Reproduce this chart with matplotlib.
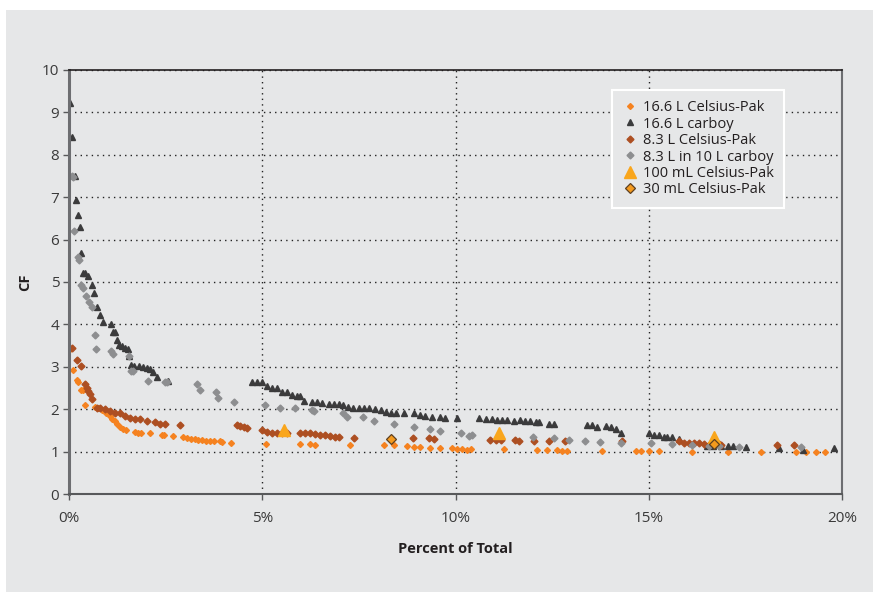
import matplotlib.pyplot as plt
from matplotlib.patches import Rectangle

# 16.6 L Celsius-Pak
pak166_x = [0.03, 0.11, 0.20, 0.24, 0.30, 0.35, 0.41, 0.67, 0.75, 0.85, 0.95, 1.05, 1.12, 1.18,
            1.25, 1.32, 1.40, 1.48, 1.70, 1.78, 1.85, 2.10, 2.40, 2.45, 2.70, 2.95, 3.05, 3.15,
            3.25, 3.35, 3.45, 3.55, 3.65, 3.75, 3.90, 3.95, 4.20, 5.10, 5.97, 6.24, 6.37, 7.28,
            8.14, 8.42, 8.75, 8.92, 9.09, 9.35, 9.61, 9.91, 10.05, 10.17, 10.30, 10.39, 11.25,
            12.11, 12.37, 12.63, 12.76, 12.89, 13.80, 14.66, 14.79, 15.00, 15.27, 16.13, 17.04,
            17.90, 18.80, 19.07, 19.33, 19.57]
pak166_y = [3.43, 2.92, 2.70, 2.65, 2.45, 2.45, 2.10, 2.06, 2.02, 1.98, 1.92, 1.85, 1.78, 1.72,
            1.65, 1.58, 1.54, 1.52, 1.47, 1.45, 1.43, 1.43, 1.39, 1.38, 1.37, 1.35, 1.32, 1.30,
            1.29, 1.28, 1.27, 1.26, 1.25, 1.25, 1.24, 1.23, 1.21, 1.19, 1.19, 1.17, 1.16, 1.16,
            1.16, 1.16, 1.13, 1.12, 1.11, 1.09, 1.08, 1.08, 1.07, 1.06, 1.04, 1.06, 1.06,
            1.04, 1.04, 1.04, 1.02, 1.02, 1.02, 1.02, 1.02, 1.02, 1.01, 0.99, 0.99,
            0.99, 0.99, 0.99, 0.99, 0.99]

# 16.6 L carboy
carboy166_x = [0.03, 0.09, 0.16, 0.17, 0.22, 0.28, 0.31, 0.35, 0.41, 0.50, 0.59, 0.65, 0.73,
               0.79, 0.87, 1.08, 1.13, 1.19, 1.25, 1.30, 1.37, 1.45, 1.52, 1.56, 1.60, 1.68,
               1.80, 1.91, 2.01, 2.10, 2.18, 2.27, 2.55, 4.73, 4.86, 4.99, 5.12, 5.25, 5.38,
               5.51, 5.64, 5.77, 5.90, 5.98, 6.09, 6.29, 6.42, 6.55, 6.72, 6.85, 6.98, 7.10,
               7.23, 7.36, 7.50, 7.62, 7.75, 7.93, 8.06, 8.19, 8.32, 8.45, 8.66, 8.92, 9.09,
               9.22, 9.40, 9.61, 9.74, 10.04, 10.60, 10.78, 10.95, 11.08, 11.21, 11.34, 11.51,
               11.68, 11.81, 11.94, 12.07, 12.16, 12.42, 12.55, 13.41, 13.54, 13.67, 13.89,
               14.02, 14.15, 14.27, 15.01, 15.14, 15.27, 15.40, 15.48, 15.59, 15.79, 16.52,
               16.65, 16.87, 17.04, 17.17, 17.51, 18.38, 18.98, 19.80]
carboy166_y = [9.23, 8.42, 7.50, 6.93, 6.57, 6.30, 5.68, 5.22, 5.21, 5.14, 4.92, 4.74, 4.40,
               4.21, 4.05, 4.00, 3.81, 3.81, 3.63, 3.52, 3.48, 3.44, 3.42, 3.26, 3.05, 3.03,
               3.01, 2.99, 2.97, 2.95, 2.87, 2.77, 2.67, 2.63, 2.63, 2.63, 2.54, 2.49, 2.49,
               2.41, 2.41, 2.33, 2.32, 2.30, 2.20, 2.18, 2.16, 2.14, 2.12, 2.12, 2.12, 2.10,
               2.06, 2.04, 2.04, 2.04, 2.04, 2.00, 1.98, 1.94, 1.92, 1.92, 1.92, 1.90, 1.87,
               1.84, 1.82, 1.82, 1.80, 1.80, 1.79, 1.77, 1.78, 1.75, 1.75, 1.75, 1.73,
               1.74, 1.73, 1.71, 1.69, 1.69, 1.65, 1.65, 1.62, 1.62, 1.59, 1.61,
               1.59, 1.54, 1.45, 1.45, 1.39, 1.39, 1.35, 1.35, 1.35, 1.29, 1.13,
               1.13, 1.13, 1.13, 1.13, 1.11, 1.08, 1.04, 1.08]

# 8.3 L Celsius-Pak
pak83_x = [0.09, 0.20, 0.30, 0.41, 0.46, 0.50, 0.54, 0.59, 0.72, 0.80, 0.93, 1.06, 1.19, 1.32,
           1.45, 1.58, 1.71, 1.84, 2.01, 2.23, 2.36, 2.49, 2.88, 4.34, 4.43, 4.52, 4.60, 4.99,
           5.12, 5.25, 5.38, 5.51, 5.64, 5.98, 6.11, 6.24, 6.37, 6.50, 6.63, 6.76, 6.89, 6.98,
           7.38, 8.89, 9.31, 9.44, 10.90, 11.04, 11.17, 11.55, 11.64, 12.03, 12.42, 12.83,
           14.32, 15.79, 15.91, 16.04, 16.17, 16.30, 16.43, 16.56, 16.82, 16.87, 18.32, 18.75]
pak83_y = [3.44, 3.16, 3.01, 2.59, 2.51, 2.43, 2.36, 2.24, 2.04, 2.03, 2.00, 1.96, 1.92, 1.92,
           1.84, 1.79, 1.77, 1.77, 1.73, 1.69, 1.66, 1.66, 1.63, 1.63, 1.61, 1.58, 1.55, 1.51,
           1.47, 1.45, 1.45, 1.45, 1.45, 1.45, 1.43, 1.43, 1.41, 1.39, 1.39, 1.37, 1.35, 1.35,
           1.33, 1.32, 1.32, 1.29, 1.28, 1.28, 1.28, 1.27, 1.25, 1.24, 1.24, 1.24,
           1.25, 1.24, 1.21, 1.20, 1.20, 1.20, 1.17, 1.16, 1.17, 1.16, 1.16, 1.16]

# 8.3 L in 10 L carboy
carboy83_x = [0.07, 0.11, 0.14, 0.22, 0.26, 0.30, 0.37, 0.44, 0.53, 0.59, 0.66, 0.70, 1.08,
              1.13, 1.54, 1.60, 1.65, 2.05, 2.49, 2.53, 3.31, 3.39, 3.81, 3.85, 4.26, 5.06,
              5.46, 5.85, 6.29, 6.33, 7.10, 7.20, 7.61, 7.88, 8.40, 8.92, 9.35, 9.61, 10.15,
              10.34, 10.43, 12.01, 12.55, 12.94, 13.35, 13.74, 14.27, 15.07, 15.61, 16.13,
              16.56, 16.82, 17.34, 18.94]
carboy83_y = [7.50, 7.48, 6.20, 5.60, 5.53, 4.94, 4.86, 4.66, 4.52, 4.42, 3.75, 3.42, 3.38,
              3.30, 3.26, 2.91, 2.89, 2.67, 2.63, 2.63, 2.59, 2.45, 2.41, 2.26, 2.16, 2.10,
              2.02, 2.02, 1.98, 1.95, 1.90, 1.82, 1.82, 1.73, 1.65, 1.58, 1.53, 1.49, 1.43,
              1.37, 1.39, 1.35, 1.31, 1.28, 1.24, 1.23, 1.21, 1.21, 1.19, 1.16,
              1.13, 1.13, 1.12, 1.11]

# 100 mL Celsius-Pak
pak100_x = [5.55, 11.12, 16.69]
pak100_y = [1.51, 1.43, 1.35]

# 30 mL Celsius-Pak
pak30_x = [8.33, 16.69]
pak30_y = [1.29, 1.18]

xticks = [0, 5, 10, 15, 20]
xtick_labels = ['0%', '5%', '10%', '15%', '20%']
yticks = list(range(0, 11))

bg = '#e6e7e8'
plt.rcParams['font.family'] = ['Open Sans', 'DejaVu Sans']

fig = plt.figure(figsize=(8.73, 5.92), dpi=100, facecolor='white')
fig.patches.append(Rectangle((6 / 873, 0), 1, 1 - 10 / 592, transform=fig.transFigure,
                             facecolor=bg, edgecolor='none', zorder=-10))
ax = fig.add_axes([69 / 873, 1 - 494 / 592, 773 / 873, 424 / 592])
ax.set_facecolor(bg)

ax.plot(pak166_x, pak166_y, linestyle='none', marker='D', ms=3.0, color='#f58220',
        mec='#f58220', label='16.6 L Celsius-Pak')
ax.plot(carboy166_x, carboy166_y, linestyle='none', marker='^', ms=4.5, color='#3b3b3c',
        label='16.6 L carboy')
ax.plot(pak83_x, pak83_y, linestyle='none', marker='D', ms=3.5, color='#ad4f22',
        label='8.3 L Celsius-Pak')
ax.plot(carboy83_x, carboy83_y, linestyle='none', marker='D', ms=3.5, color='#8d8e90',
        label='8.3 L in 10 L carboy')
ax.plot(pak100_x, pak100_y, linestyle='none', marker='^', ms=8, color='#f9a61c',
        label='100 mL Celsius-Pak')
ax.plot(pak30_x, pak30_y, linestyle='none', marker='D', ms=5, color='#f49a1e',
        mec='#5e4020', mew=0.9, label='30 mL Celsius-Pak')

ax.set_xlim(0, 20)
ax.set_ylim(0, 10)
ax.set_xticks(xticks)
ax.set_xticklabels(xtick_labels)
ax.set_yticks(yticks)
ax.grid(True, linestyle=(0, (1, 3)), color='#222222', linewidth=1.0)
ax.set_axisbelow(True)

ax.spines['left'].set_color('#6d6e71')
ax.spines['left'].set_linewidth(2.2)
ax.spines['bottom'].set_color('#58595b')
ax.spines['bottom'].set_linewidth(1.5)
ax.spines['top'].set_color('#231f20')
ax.spines['top'].set_linewidth(1.2)
ax.spines['right'].set_color('#6d6e71')
ax.spines['right'].set_linewidth(1.5)

ax.tick_params(axis='both', direction='out', length=4, width=1, color='#58595b',
               labelsize=11, labelcolor='#3a3a3a')
ax.tick_params(axis='x', pad=8)
ax.tick_params(axis='y', pad=3)

ax.set_xlabel('Percent of Total', fontsize=10.5, fontweight='bold', color='#231f20',
              labelpad=12)
ax.set_ylabel('CF', fontsize=10.5, fontweight='bold', color='#231f20', labelpad=7)

leg = ax.legend(loc='upper left', bbox_to_anchor=(0.703, 0.953), fontsize=10.5,
                frameon=True, fancybox=False, facecolor=bg, edgecolor='white',
                framealpha=1, handlelength=1.0, handletextpad=0.4, labelspacing=0.1,
                borderpad=0.7, markerscale=1.0, borderaxespad=0)
leg.get_frame().set_linewidth(1.5)
for t in leg.get_texts():
    t.set_color('#231f20')

fig.savefig('out.png', dpi=100, facecolor='white')
